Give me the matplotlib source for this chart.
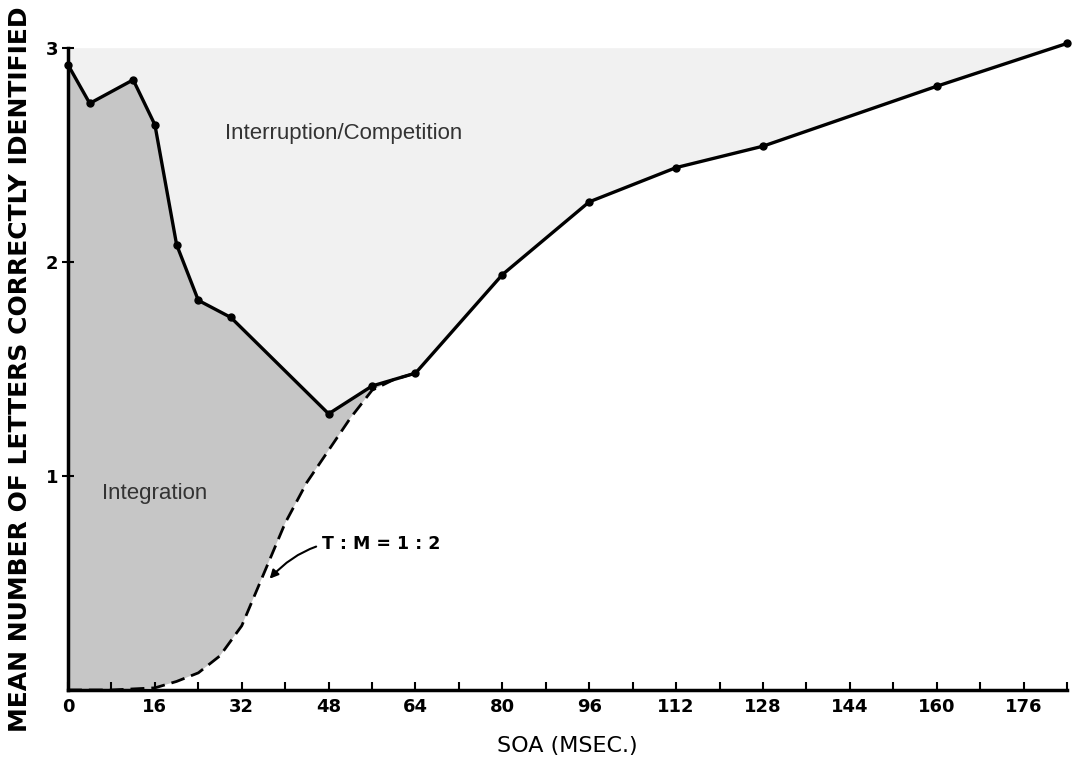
import numpy as np
import matplotlib.pyplot as plt

# Solid curve (all SOA values)
soa = [0, 4, 12, 16, 20, 24, 30, 48, 56, 64, 80, 96, 112, 128, 160, 184]
letters = [2.92, 2.74, 2.85, 2.64, 2.08, 1.82, 1.74, 1.29, 1.42, 1.48,
           1.94, 2.28, 2.44, 2.54, 2.82, 3.02]

# Dashed curve T:M = 1:2
soa_tm = [0, 8, 16, 20, 24, 28, 32, 36, 40, 44, 48, 52, 56, 60, 64]
letters_tm = [0.0, 0.0, 0.01, 0.04, 0.08, 0.16, 0.30, 0.54, 0.78, 0.97,
              1.12, 1.27, 1.40, 1.45, 1.48]

xticks = np.arange(0, 185, 8)
xticklabels = [str(t) if t % 16 == 0 else '' for t in xticks]
yticks = [1, 2, 3]

fig = plt.figure(figsize=(10.73, 7.61), dpi=100)
ax = fig.add_axes([0.0634, 0.0933, 0.931, 0.844])

# light region above the solid curve
ax.fill_between(soa, letters, 3.0, color='#f1f1f1', lw=0, zorder=1)

# dark region between the solid curve and the dashed one (up to 64 ms)
sx = [x for x in soa if x <= 64]
sy = letters[:len(sx)]
poly_x = sx + soa_tm[::-1]
poly_y = sy + letters_tm[::-1]
ax.fill(poly_x, poly_y, color='#c6c6c6', lw=0, zorder=1)

ax.plot(soa, letters, color='black', lw=2.4, zorder=3, clip_on=False)
ax.plot(soa, letters, 'o', color='black', ms=5, zorder=4, clip_on=False)
ax.plot(soa_tm, letters_tm, color='black', lw=2, ls=(0, (5, 2.5)), zorder=3)

ax.set_xlim(0, 184)
ax.set_ylim(0, 3)
ax.set_xticks(xticks)
ax.set_xticklabels(xticklabels)
ax.set_yticks(yticks)
ax.tick_params(axis='x', direction='in', length=6, width=1.5, labelsize=13, pad=6)
ax.tick_params(axis='y', direction='inout', length=8, width=1.5, labelsize=13, pad=3)
for lab in ax.get_xticklabels() + ax.get_yticklabels():
    lab.set_fontweight('bold')

ax.spines['top'].set_visible(False)
ax.spines['right'].set_visible(False)
ax.spines['left'].set_linewidth(2.5)
ax.spines['bottom'].set_linewidth(2.5)

ax.set_xlabel('SOA (MSEC.)', fontsize=16, labelpad=14)
ax.set_ylabel('MEAN NUMBER OF LETTERS CORRECTLY IDENTIFIED', fontsize=18,
              fontweight='bold', labelpad=10)

ax.text(29, 2.6, 'Interruption/Competition', fontsize=16,
        family='Liberation Sans', color='#333333', va='center', zorder=5)
ax.text(6.3, 0.92, 'Integration', fontsize=16,
        family='Liberation Sans', color='#333333', va='center', zorder=5)

ax.annotate('T : M = 1 : 2', xy=(36.8, 0.51), xytext=(46.7, 0.68),
            fontsize=12.5, fontweight='bold', va='center',
            arrowprops=dict(arrowstyle='-|>', color='black', lw=1.5,
                            connectionstyle='arc3,rad=0.3'), zorder=5)

fig.savefig('out.png', dpi=100)
